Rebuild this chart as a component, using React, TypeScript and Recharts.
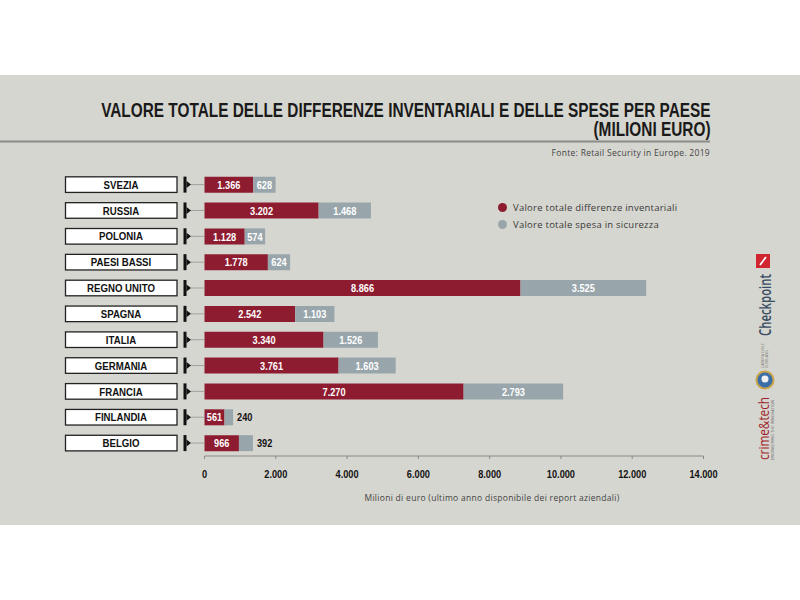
import React from 'react';
import { BarChart, Bar, XAxis, YAxis, Legend, LabelList } from 'recharts';

const countries = ['SVEZIA', 'RUSSIA', 'POLONIA', 'PAESI BASSI', 'REGNO UNITO', 'SPAGNA', 'ITALIA', 'GERMANIA', 'FRANCIA', 'FINLANDIA', 'BELGIO'];
const differenze = [1366, 3202, 1128, 1778, 8866, 2542, 3340, 3761, 7270, 561, 966];
const sicurezza = [628, 1468, 574, 624, 3525, 1103, 1526, 1603, 2793, 240, 392];
const xTicks = [0, 2000, 4000, 6000, 8000, 10000, 12000, 14000];

const seriesNames = ['Valore totale differenze inventariali', 'Valore totale spesa in sicurezza'];
const RED = '#8e1c30';
const GREY = '#98a6ab';
const BG = '#d6d6d0';
const BOLDF = "'Liberation Sans',Arial,sans-serif";
const SANS = "'Open Sans','Noto Sans',sans-serif";

const data = countries.map((c, i) => ({ country: c, diff: differenze[i], sic: sicurezza[i] }));

const fmt = (v: number) => v.toLocaleString('de-DE');

const CondText = ({ x, y, sx = 0.8, size = 11.5, fill = '#111', anchor = 'middle', children }: any) => (
  <text
    transform={`translate(${x} ${y}) scale(${sx} 1)`}
    x={0}
    y={0}
    dy="0.36em"
    textAnchor={anchor}
    fontFamily={BOLDF}
    fontWeight="bold"
    fontSize={size}
    fill={fill}
  >
    {children}
  </text>
);

const CountryTick = (props: any) => {
  const { y, payload } = props;
  return (
    <g>
      <rect x={65.5} y={y - 7.8} width={111.5} height={15.6} fill="#fff" stroke="#222" strokeWidth={1.3} />
      <CondText x={121} y={y} sx={0.84} size={11.5}>{payload.value}</CondText>
      <rect x={183.5} y={y - 8} width={3} height={16} fill="#111" />
      <polygon points={`186.5,${y - 3.5} 191,${y} 186.5,${y + 3.5}`} fill="#111" />
      <line x1={191} y1={y} x2={205} y2={y} stroke="#8a8a8a" strokeWidth={0.7} />
    </g>
  );
};

const XTick = (props: any) => {
  const { x, y, payload } = props;
  return <CondText x={x} y={y + 7} sx={0.8} size={11.5}>{fmt(payload.value)}</CondText>;
};

const InsideLabel = (props: any) => {
  const { x, y, width, height, value } = props;
  return <CondText x={x + width / 2} y={y + height / 2} sx={0.8} size={11.5} fill="#fff">{fmt(value)}</CondText>;
};

const GreyLabel = (props: any) => {
  const { x, y, width, height, value } = props;
  const outside = width < 18;
  return (
    <CondText
      x={outside ? x + width + 4 : x + width / 2}
      y={y + height / 2}
      sx={0.8}
      size={11.5}
      anchor={outside ? 'start' : 'middle'}
      fill={outside ? '#111' : '#fff'}
    >
      {fmt(value)}
    </CondText>
  );
};

const LegendContent = (props: any) => {
  const { payload } = props;
  return (
    <div style={{ fontFamily: SANS, fontSize: 9.5, color: '#3a3a3a', letterSpacing: 0.25 }}>
      {(payload || []).map((p: any) => (
        <div key={p.value} style={{ display: 'flex', alignItems: 'center', height: 17 }}>
          <span style={{ display: 'inline-block', width: 9, height: 9, borderRadius: '50%', background: p.color, marginRight: 6 }} />
          <span>{p.value}</span>
        </div>
      ))}
    </div>
  );
};

export default function App() {
  return (
    <div style={{ position: 'absolute', left: 0, top: 0, width: 800, height: 600, background: '#fff', overflow: 'hidden' }}>
      <div style={{ position: 'absolute', left: 0, top: 75, width: 800, height: 450, background: BG }} />
      <div
        style={{
          position: 'absolute',
          right: 90,
          top: 99.6,
          textAlign: 'right',
          fontFamily: BOLDF,
          fontWeight: 'bold',
          fontSize: 20.5,
          lineHeight: '19.8px',
          color: '#1a1a1a',
          whiteSpace: 'nowrap',
          transform: 'scaleX(0.75)',
          transformOrigin: 'right top',
        }}
      >
        <div>VALORE TOTALE DELLE DIFFERENZE INVENTARIALI E DELLE SPESE PER PAESE</div>
        <div>(MILIONI EURO)</div>
      </div>
      <svg width={800} height={600} style={{ position: 'absolute', left: 0, top: 0 }}>
        <line x1={0} y1={141.5} x2={710} y2={141.5} stroke="#8a8a88" strokeWidth={1.8} />
        <text x={710} y={156} textAnchor="end" fontFamily={SANS} fontSize={8.5} fill="#444" letterSpacing={0.3}>
          Fonte: Retail Security in Europe. 2019
        </text>
        <text x={492} y={501} textAnchor="middle" fontFamily={SANS} fontSize={8.5} fill="#444" letterSpacing={0.3}>
          Milioni di euro (ultimo anno disponibile dei report aziendali)
        </text>
        {/* logos */}
        <g>
          <rect x={756} y={254} width={14} height={14} fill="#d1252f" />
          <path d="M760 265 L766 257" stroke="#fff" strokeWidth={1.8} />
          <text transform="translate(771 336) rotate(-90)" textLength={62} lengthAdjust="spacingAndGlyphs" fontFamily={SANS} fontWeight="600" fontSize={16} fill="#3b4d63">Checkpoint</text>
          <text transform="translate(764 368) rotate(-90)" fontFamily={SANS} fontSize={3.5} fill="#777">CAMERA CIVILE</text>
          <text transform="translate(768 368) rotate(-90)" fontFamily={SANS} fontSize={3.5} fill="#777">DI MILANO</text>
          <circle cx={765} cy={380} r={8.5} fill="#3a6ea8" stroke="#c9a24a" strokeWidth={2} />
          <circle cx={765} cy={379} r={3.5} fill="#f0f0f0" />
          <text transform="translate(769 460) rotate(-90)" textLength={63} lengthAdjust="spacingAndGlyphs" fontFamily={SANS} fontSize={14} fill="#a11f2c">crime&amp;tech</text>
          <text transform="translate(774 460) rotate(-90)" textLength={60} fontFamily={SANS} fontSize={3.5} fill="#555">ENGINEERING THE INNOVATION</text>
        </g>
      </svg>
      <div style={{ position: 'absolute', left: 0, top: 0 }}>
        <BarChart
          width={800}
          height={600}
          layout="vertical"
          data={data}
          margin={{ top: 171.7, right: 96.5, bottom: 104, left: 0 }}
          barSize={16}
        >
          <XAxis
            type="number"
            domain={[0, 14000]}
            ticks={xTicks}
            height={40}
            tick={<XTick />}
            tickSize={3}
            tickMargin={8}
            axisLine={{ stroke: '#888', strokeWidth: 1 }}
            tickLine={{ stroke: '#888' }}
            interval={0}
          />
          <YAxis type="category" dataKey="country" width={204.5} tick={<CountryTick />} axisLine={false} tickLine={false} interval={0} />
          <Legend
            layout="vertical"
            align="center"
            verticalAlign="middle"
            content={<LegendContent />}
            wrapperStyle={{ top: 199, left: 498, width: 220, height: 40 }}
          />
          <Bar dataKey="diff" name={seriesNames[0]} stackId="a" fill={RED} isAnimationActive={false}>
            <LabelList dataKey="diff" content={<InsideLabel />} />
          </Bar>
          <Bar dataKey="sic" name={seriesNames[1]} stackId="a" fill={GREY} isAnimationActive={false}>
            <LabelList dataKey="sic" content={<GreyLabel />} />
          </Bar>
        </BarChart>
      </div>
    </div>
  );
}
